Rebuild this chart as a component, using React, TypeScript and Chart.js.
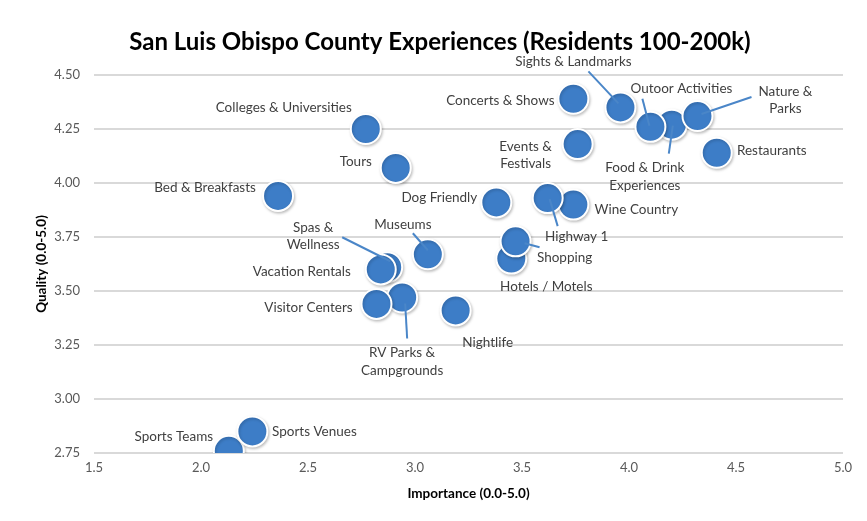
import React, { useEffect, useRef } from "react";
import { Chart, registerables } from "chart.js";

Chart.register(...registerables);

// ---------- data ----------
const names: string[] = [
  "Colleges & Universities",
  "Tours",
  "Bed & Breakfasts",
  "Concerts & Shows",
  "Sights & Landmarks",
  "Food & Drink Experiences",
  "Outoor Activities",
  "Nature & Parks",
  "Restaurants",
  "Events & Festivals",
  "Dog Friendly",
  "Wine Country",
  "Highway 1",
  "Hotels / Motels",
  "Shopping",
  "Museums",
  "Spas & Wellness",
  "Vacation Rentals",
  "RV Parks & Campgrounds",
  "Visitor Centers",
  "Nightlife",
  "Sports Teams",
  "Sports Venues",
];

const importance: number[] = [
  2.77, 2.91, 2.36, 3.74, 3.96, 4.2, 4.1, 4.32, 4.41, 3.76, 3.38, 3.74, 3.62,
  3.45, 3.47, 3.06, 2.87, 2.84, 2.94, 2.82, 3.19, 2.13, 2.24,
];

const quality: number[] = [
  4.25, 4.07, 3.94, 4.39, 4.35, 4.27, 4.26, 4.31, 4.14, 4.18, 3.91, 3.9, 3.93,
  3.65, 3.73, 3.67, 3.61, 3.6, 3.47, 3.44, 3.41, 2.76, 2.85,
];

const xTickValues: number[] = [1.5, 2.0, 2.5, 3.0, 3.5, 4.0, 4.5, 5.0];
const yTickValues: number[] = [2.75, 3.0, 3.25, 3.5, 3.75, 4.0, 4.25, 4.5];

const titleText = "San Luis Obispo County Experiences (Residents 100-200k)";
const xTitle = "Importance (0.0-5.0)";
const yTitle = "Quality (0.0-5.0)";

// ---------- label layout (pixel offsets from each point) ----------
type Lay = { dx: number; dy: number; lines: string[]; leader?: number[] };
const labelLayout: Record<string, Lay> = {
  "Colleges & Universities": { dx: -82, dy: -21, lines: ["Colleges & Universities"] },
  Tours: { dx: -40, dy: -6, lines: ["Tours"] },
  "Bed & Breakfasts": { dx: -73, dy: -8, lines: ["Bed & Breakfasts"] },
  "Concerts & Shows": { dx: -73, dy: 2, lines: ["Concerts & Shows"] },
  "Sights & Landmarks": { dx: -47, dy: -46, lines: ["Sights & Landmarks"], leader: [-32, -36, -2, -4] },
  "Food & Drink Experiences": { dx: -27, dy: 52, lines: ["Food & Drink", "Experiences"], leader: [-3, 29, 1, 1] },
  "Outoor Activities": { dx: 31, dy: -38, lines: ["Outoor Activities"], leader: [-8, -28, -1, -1] },
  "Nature & Parks": { dx: 88, dy: -16, lines: ["Nature &", "Parks"], leader: [54, -19, 4, -2] },
  Restaurants: { dx: 55, dy: -2, lines: ["Restaurants"] },
  "Events & Festivals": { dx: -52, dy: 11, lines: ["Events &", "Festivals"] },
  "Dog Friendly": { dx: -57, dy: -5, lines: ["Dog Friendly"] },
  "Wine Country": { dx: 63, dy: 5, lines: ["Wine Country"] },
  "Highway 1": { dx: 29, dy: 39, lines: ["Highway 1"], leader: [10, 28, 2, 1] },
  "Hotels / Motels": { dx: 35, dy: 28, lines: ["Hotels / Motels"] },
  Shopping: { dx: 49, dy: 16, lines: ["Shopping"], leader: [24, 6, 9, 2] },
  Museums: { dx: -25, dy: -30, lines: ["Museums"], leader: [-15, -21, 0, -4] },
  "Spas & Wellness": { dx: -74, dy: -31, lines: ["Spas &", "Wellness"], leader: [-45, -30, 3, -6] },
  "Vacation Rentals": { dx: -79, dy: 2, lines: ["Vacation Rentals"] },
  "RV Parks & Campgrounds": { dx: 0, dy: 64, lines: ["RV Parks &", "Campgrounds"], leader: [5, 41, 3, 6] },
  "Visitor Centers": { dx: -68, dy: 4, lines: ["Visitor Centers"] },
  Nightlife: { dx: 32, dy: 32, lines: ["Nightlife"] },
  "Sports Teams": { dx: -55, dy: -14, lines: ["Sports Teams"] },
  "Sports Venues": { dx: 62, dy: 0, lines: ["Sports Venues"] },
};

const FONT = "Lato, 'Open Sans', sans-serif";

const titlePlugin = {
  id: "centeredTitle",
  afterDraw(chart: any) {
    const ctx = chart.ctx;
    ctx.save();
    ctx.fillStyle = "#000000";
    ctx.font = `bold 24px ${FONT}`;
    ctx.textAlign = "center";
    ctx.textBaseline = "middle";
    ctx.fillText(titleText, 440, 42);
    ctx.restore();
  },
};

const labelPlugin = {
  id: "pointLabels",
  beforeDatasetDraw(chart: any) {
    const ctx = chart.ctx;
    ctx.save();
    ctx.shadowColor = "rgba(0,0,0,0.22)";
    ctx.shadowBlur = 3;
    ctx.shadowOffsetX = 1;
    ctx.shadowOffsetY = 1.5;
  },
  afterDatasetDraw(chart: any) {
    chart.ctx.restore();
  },
  afterDatasetsDraw(chart: any) {
    const ctx = chart.ctx;
    const meta = chart.getDatasetMeta(0);
    ctx.save();
    meta.data.forEach((el: any, i: number) => {
      const lay = labelLayout[names[i]];
      if (!lay) return;
      const px = el.x;
      const py = el.y;
      if (lay.leader) {
        const [a, b, c, d] = lay.leader;
        ctx.beginPath();
        ctx.strokeStyle = "#4a86c8";
        ctx.lineWidth = 2;
        ctx.moveTo(px + a, py + b);
        ctx.lineTo(px + c, py + d);
        ctx.stroke();
      }
      ctx.fillStyle = "#3f3f3f";
      ctx.font = `13.5px ${FONT}`;
      ctx.textAlign = "center";
      ctx.textBaseline = "middle";
      const lh = 17.5;
      const n = lay.lines.length;
      lay.lines.forEach((t, k) => {
        ctx.fillText(t, px + lay.dx, py + lay.dy + (k - (n - 1) / 2) * lh);
      });
    });
    ctx.restore();
  },
};

export default function App() {
  const ref = useRef<HTMLCanvasElement | null>(null);

  useEffect(() => {
    if (!ref.current) return;
    const points = names.map((_, i) => ({ x: importance[i], y: quality[i] }));
    const chart = new Chart(ref.current, {
      type: "scatter",
      data: {
        datasets: [
          {
            data: points,
            pointRadius: 15,
            pointHoverRadius: 15,
            backgroundColor: "#3d7dc7",
            borderColor: "#ffffff",
            borderWidth: 2,
            clip: { left: 30, right: 30, top: 30, bottom: 0 } as any,
          },
        ],
      },
      options: {
        animation: false,
        responsive: true,
        maintainAspectRatio: false,
        layout: { padding: { left: 0, right: 24, top: 75, bottom: 0 } },
        plugins: {
          legend: { display: false },
          tooltip: { enabled: false },
          title: { display: false },
        },
        scales: {
          x: {
            type: "linear",
            min: xTickValues[0],
            max: xTickValues[xTickValues.length - 1],
            afterBuildTicks: (s: any) => {
              s.ticks = xTickValues.map((v) => ({ value: v }));
            },
            afterFit: (s: any) => {
              s.height = 68;
            },
            grid: { display: false, drawTicks: false },
            border: { display: false },
            ticks: {
              padding: 7,
              color: "#595959",
              font: { family: FONT, size: 13 },
              callback: (v: any) => Number(v).toFixed(1),
            },
            title: {
              display: true,
              text: xTitle,
              color: "#000000",
              font: { family: FONT, size: 13.5, weight: "bold" },
              padding: { top: 0, bottom: 19 },
            },
          },
          y: {
            type: "linear",
            min: yTickValues[0],
            max: yTickValues[yTickValues.length - 1],
            afterBuildTicks: (s: any) => {
              s.ticks = yTickValues.map((v) => ({ value: v }));
            },
            afterFit: (s: any) => {
              s.width = 94;
            },
            grid: { color: "#d9d9d9", lineWidth: 2, drawTicks: false },
            border: { display: false },
            ticks: {
              padding: 14,
              color: "#595959",
              font: { family: FONT, size: 13 },
              callback: (v: any) => Number(v).toFixed(2),
            },
            title: {
              display: true,
              text: yTitle,
              color: "#000000",
              font: { family: FONT, size: 13.5, weight: "bold" },
              padding: { top: 34, bottom: 0 },
            },
          },
        },
      },
      plugins: [labelPlugin, titlePlugin],
    });
    return () => chart.destroy();
  }, []);

  return (
    <div
      style={{
        position: "fixed",
        left: 0,
        top: 0,
        width: 867,
        height: 521,
        background: "#ffffff",
      }}
    >
      <canvas ref={ref} />
    </div>
  );
}
